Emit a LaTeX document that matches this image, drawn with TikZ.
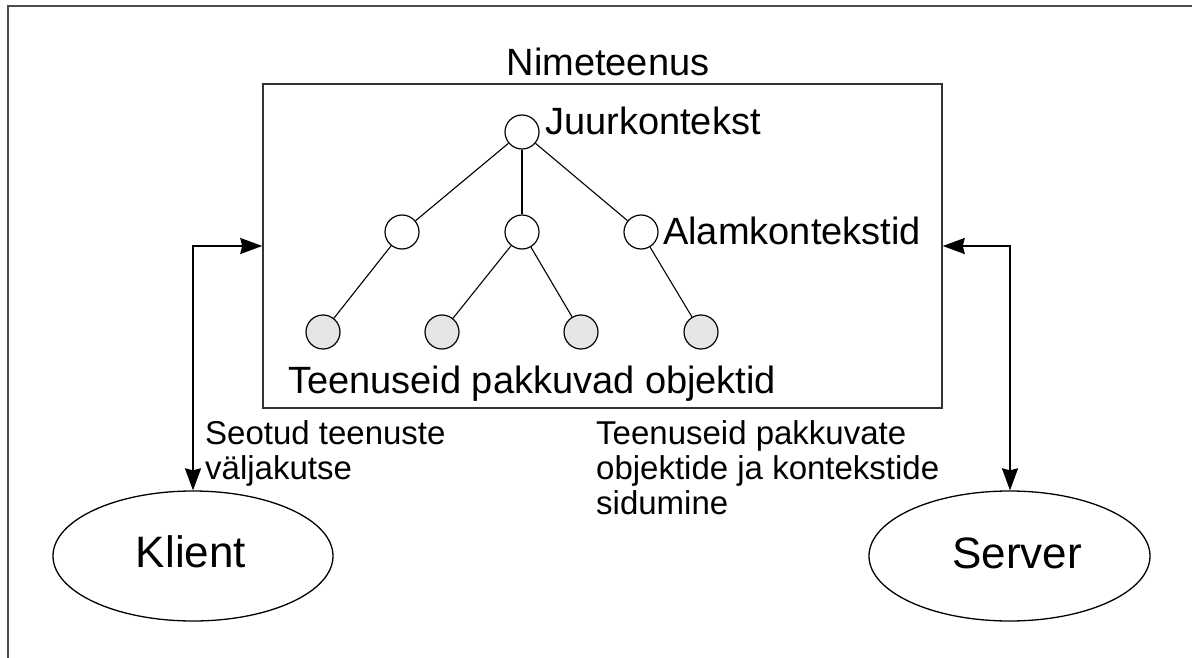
\documentclass[tikz,border=0pt]{standalone}
\usepackage{fontspec}
\setmainfont{Liberation Sans}
\usetikzlibrary{arrows.meta,shapes.geometric}
\tikzset{
  big/.style={font=\fontsize{38}{42}\selectfont, inner sep=0pt},
  huge/.style={font=\fontsize{44}{48}\selectfont, inner sep=0pt},
  small/.style={font=\fontsize{33}{35}\selectfont, inner sep=0pt},
  ctx/.style={circle, draw, line width=1.2pt, minimum size=34pt, inner sep=0pt, fill=white},
  obj/.style={circle, draw, line width=1.2pt, minimum size=34pt, inner sep=0pt, fill=black!10},
  edge/.style={line width=1.1pt},
  conn/.style={line width=2pt, {Stealth[length=22pt,width=16pt,inset=2pt]}-{Stealth[length=22pt,width=16pt,inset=2pt]}},
  actor/.style={ellipse, draw, line width=1.3pt, inner sep=0pt},
}
\begin{document}
\begin{tikzpicture}[x=1pt,y=-1pt]
\useasboundingbox (0,0) rectangle (1192,658);
% outer frame
\draw[line width=2pt, black!70] (8,700) -- (8,6) -- (1250,6);
% name service box
\node[draw, line width=1.5pt, black!80, minimum width=679pt, minimum height=324pt, inner sep=0pt] (box) at (602.5,246) {};
\node[big] (title) at (608,62) {Nimeteenus};
% tree
\node[ctx] (root) at (522,132) {};
\node[ctx] (m1) at (402,232) {};
\node[ctx] (m2) at (522,232) {};
\node[ctx] (m3) at (641,232) {};
\node[obj] (o1) at (323,332) {};
\node[obj] (o2) at (442,332) {};
\node[obj] (o3) at (581,332) {};
\node[obj] (o4) at (701,332) {};
\draw[edge] (root) -- (m1);
\draw[edge] (root) -- (m2);
\draw[edge] (root) -- (m3);
\draw[edge] (m1) -- (o1);
\draw[edge] (m2) -- (o2);
\draw[edge] (m2) -- (o3);
\draw[edge] (m3) -- (o4);
\node[big, anchor=base west] (lroot) at (545,135) {Juurkontekst};
\node[big, anchor=base west] (lmid) at (663,244) {Alamkontekstid};
\node[big, anchor=base west] (lobj) at (288,393) {Teenuseid pakkuvad objektid};
% actors
\node[actor, minimum width=280pt, minimum height=130pt] (klient) at (193,556) {};
\node[huge, anchor=base] (klabel) at (191,567) {Klient};
\node[actor, minimum width=281pt, minimum height=130pt] (server) at (1009.5,556) {};
\node[huge, anchor=base] (slabel) at (1017,568) {Server};
% connectors
\coordinate (lj) at (193,246);
\coordinate (rj) at (1010,246);
\draw[conn] (klient.north -| lj) -- (lj) -- (lj -| box.west);
\draw[conn] (server.north -| rj) -- (rj) -- (rj -| box.east);
% labels
\node[small, anchor=base west] (ll1) at (205,444) {Seotud teenuste};
\node[small, anchor=base west] (ll2) at (205,479) {väljakutse};
\node[small, anchor=base west] (rl1) at (596,444) {Teenuseid pakkuvate};
\node[small, anchor=base west] (rl2) at (596,479) {objektide ja kontekstide};
\node[small, anchor=base west] (rl3) at (596,514) {sidumine};
\end{tikzpicture}
\end{document}
